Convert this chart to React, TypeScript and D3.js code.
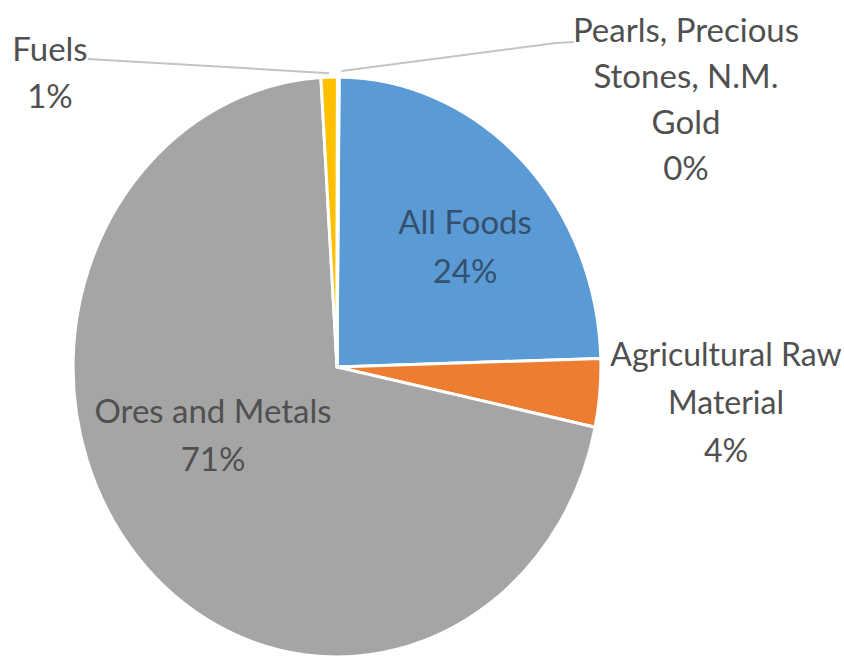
import React from "react";
import * as d3 from "d3";

const categories = ["All Foods", "Agricultural Raw Material", "Ores and Metals", "Fuels", "Pearls, Precious Stones, N.M. Gold"];
const values = [24.4, 3.8, 70.7, 1.0, 0.1];
const percentLabels = ["24%", "4%", "71%", "1%", "0%"];
const colors = ["#5B9BD5", "#ED7D31", "#A5A5A5", "#FFC000", "#4472C4"];

// label text lines and anchor layout (visual placement only)
const labelLines = [
  ["All Foods", percentLabels[0]],
  ["Agricultural Raw", "Material", percentLabels[1]],
  ["Ores and Metals", percentLabels[2]],
  ["Fuels", percentLabels[3]],
  ["Pearls, Precious", "Stones, N.M.", "Gold", percentLabels[4]],
];
const labelLayout = [
  { x: 465, y: 234, dy: 49 },
  { x: 726, y: 366, dy: 48 },
  { x: 213, y: 423, dy: 48 },
  { x: 50, y: 61, dy: 47 },
  { x: 686, y: 42, dy: 46 },
];

const W = 844;
const H = 659;
const CX = 337;
const CY = 367;
const R = 290;
const SX = 0.91;
const START = 0.008;

export default function App() {
  const pie = d3
    .pie<number>()
    .sort(null)
    .value((d) => d)
    .startAngle(START)
    .endAngle(2 * Math.PI + START);
  const arcs = pie(values);
  const arc = d3.arc<d3.PieArcDatum<number>>().innerRadius(0).outerRadius(R);

  const edgePoint = (a: number, r: number) => [CX + SX * r * Math.sin(a), CY - r * Math.cos(a)];

  const fuelsMid = (arcs[3].startAngle + arcs[3].endAngle) / 2;
  const pearlsMid = (arcs[4].startAngle + arcs[4].endAngle) / 2 + 0.012;
  const fuelsEnd = edgePoint(fuelsMid, R + 4);
  const pearlsEnd = edgePoint(pearlsMid, R + 6);

  return (
    <svg
      width={W}
      height={H}
      style={{ position: "absolute", left: 0, top: 0, background: "#fff" }}
      fontFamily="Lato, 'Open Sans', sans-serif"
    >
      <g transform={`translate(${CX},${CY}) scale(${SX},1)`}>
        {arcs.map((a, i) => (
          <path
            key={categories[i]}
            d={arc(a) || ""}
            fill={colors[i]}
            stroke="#fff"
            strokeWidth={3}
            strokeLinejoin="round"
            vectorEffect="non-scaling-stroke"
          />
        ))}
      </g>
      <polyline
        points={`88,59 ${fuelsEnd[0]},${fuelsEnd[1]}`}
        fill="none"
        stroke="#c4c4c4"
        strokeWidth={2}
      />
      <polyline
        points={`${pearlsEnd[0]},${pearlsEnd[1]} 556,43 574,42`}
        fill="none"
        stroke="#c4c4c4"
        strokeWidth={2}
      />
      {labelLines.map((lines, i) => {
        const L = labelLayout[i];
        return (
          <text
            key={categories[i]}
            textAnchor="middle"
            fontSize={i === 1 ? 32 : 33}
            fill={i === 0 ? "#34506c" : "#505050"}
          >
            {lines.map((t, j) => (
              <tspan key={j} x={L.x} y={L.y + j * L.dy}>
                {t}
              </tspan>
            ))}
          </text>
        );
      })}
    </svg>
  );
}
